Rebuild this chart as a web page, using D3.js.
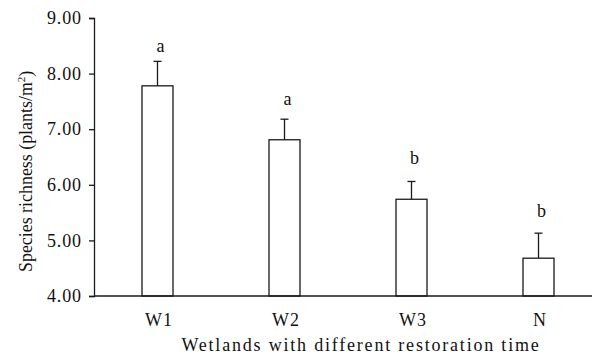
<!DOCTYPE html>
<html>
<head>
<meta charset="utf-8">
<script src="https://cdn.jsdelivr.net/npm/d3@7"></script>
<style>
  body { margin: 0; background: #fff; }
  svg text { font-family: "Liberation Serif", "Times New Roman", serif; fill: #111; }
</style>
</head>
<body>
<div class="chart"></div>
<script>
// sites and mean species richness, error bar tops, letters
var sites = ["W1", "W2", "W3", "N"];
var means = [7.78, 6.81, 5.74, 4.68];
var errTops = [8.22, 7.18, 6.06, 5.13];
var letters = ["a", "a", "b", "b"];
var letterPos = [8.38, 7.44, 6.37, 5.42]; // baseline of the letters, in axis units
var yTicks = [4, 5, 6, 7, 8, 9];

var W = 592, H = 356;
var margin = {top: 18, right: 0, bottom: 60, left: 94};

var svg = d3.select(".chart").append("svg")
    .attr("width", W)
    .attr("height", H);

var xScale = d3.scalePoint()
    .domain(sites)
    .range([margin.left, 602])
    .padding(0.5);

var yScale = d3.scaleLinear()
    .domain([4, 9])
    .range([296, 18]);

var barW = 31;
var ink = "#1a1a1a";

// y axis
var yAxis = svg.append("g")
    .attr("transform", "translate(" + margin.left + ",0)")
    .call(d3.axisLeft(yScale).tickValues(yTicks).tickFormat(d3.format(".2f")).tickSize(5).tickPadding(7));
yAxis.select(".domain").attr("stroke", ink).attr("stroke-width", 1.3);
yAxis.selectAll(".tick line").attr("stroke", ink).attr("stroke-width", 1.3);
yAxis.selectAll("text")
    .style("font-size", "18px")
    .style("letter-spacing", "0.9px")
    .attr("fill", "#111");

// bars
svg.selectAll(".bar")
    .data(sites)
  .enter().append("rect")
    .attr("class", "bar")
    .attr("x", function(d) { return xScale(d) - barW / 2; })
    .attr("y", function(d, i) { return yScale(means[i]); })
    .attr("width", barW)
    .attr("height", function(d, i) { return yScale(4) - yScale(means[i]); })
    .attr("fill", "#fff")
    .attr("stroke", ink)
    .attr("stroke-width", 1.3);

// error bars
svg.selectAll(".err")
    .data(sites)
  .enter().append("line")
    .attr("x1", function(d) { return xScale(d); })
    .attr("x2", function(d) { return xScale(d); })
    .attr("y1", function(d, i) { return yScale(means[i]); })
    .attr("y2", function(d, i) { return yScale(errTops[i]); })
    .attr("stroke", ink)
    .attr("stroke-width", 1.3);

svg.selectAll(".cap")
    .data(sites)
  .enter().append("line")
    .attr("x1", function(d) { return xScale(d) - 4; })
    .attr("x2", function(d) { return xScale(d) + 4; })
    .attr("y1", function(d, i) { return yScale(errTops[i]); })
    .attr("y2", function(d, i) { return yScale(errTops[i]); })
    .attr("stroke", ink)
    .attr("stroke-width", 1.3);

// significance letters
svg.selectAll(".letter")
    .data(sites)
  .enter().append("text")
    .attr("x", function(d) { return xScale(d) + 3; })
    .attr("y", function(d, i) { return yScale(letterPos[i]); })
    .attr("text-anchor", "middle")
    .style("font-size", "18px")
    .text(function(d, i) { return letters[i]; });

// x axis line
svg.append("line")
    .attr("x1", margin.left)
    .attr("x2", W)
    .attr("y1", yScale(4))
    .attr("y2", yScale(4))
    .attr("stroke", ink)
    .attr("stroke-width", 1.3);

// x tick labels
svg.selectAll(".xlab")
    .data(sites)
  .enter().append("text")
    .attr("x", function(d) { return xScale(d) + 1.5; })
    .attr("y", 326)
    .attr("text-anchor", "middle")
    .style("font-size", "18px")
    .style("letter-spacing", "0.9px")
    .text(function(d) { return d; });

// axis titles
svg.append("text")
    .attr("x", 361)
    .attr("y", 351)
    .attr("text-anchor", "middle")
    .style("font-size", "18px")
    .style("letter-spacing", "1.8px")
    .text("Wetlands with different restoration time");

var yt = svg.append("text")
    .attr("transform", "translate(32,272) rotate(-90)")
    .attr("text-anchor", "start")
    .style("font-size", "17.9px");
yt.append("tspan").text("Species richness (plants/m");
yt.append("tspan").attr("dy", -7).style("font-size", "11px").text("2");
yt.append("tspan").attr("dy", 7).text(")");
</script>
</body>
</html>
